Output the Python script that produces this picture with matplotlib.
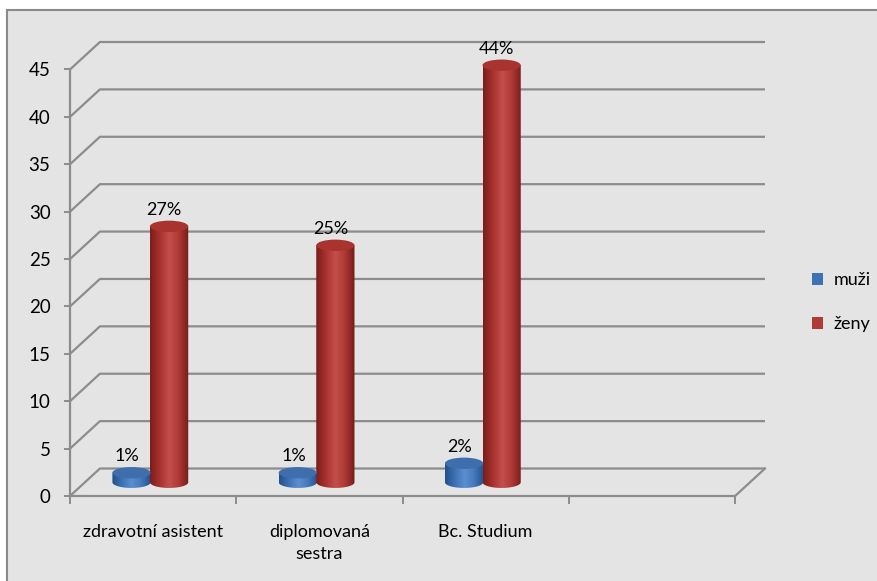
import matplotlib
matplotlib.use('Agg')
import matplotlib.pyplot as plt
import numpy as np
from matplotlib.patches import Polygon, Ellipse, Rectangle, Patch
from matplotlib.colors import LinearSegmentedColormap

plt.rcParams['font.family'] = ['Lato', 'DejaVu Sans']

# Data
kategorie = ['zdravotní asistent', 'diplomovaná\nsestra', 'Bc. Studium', '']
serie = ['muži', 'ženy']
muzi = [1, 1, 2, np.nan]
zeny = [27, 25, 44, np.nan]
popisky_muzi = ['1%', '1%', '2%', '']
popisky_zeny = ['27%', '25%', '44%', '']

W, H = 878, 581
fs = 13
fig = plt.figure(figsize=(W / 100, H / 100), dpi=100, facecolor='white')

# okraj grafu
fig.patches.append(Rectangle((7 / W, -0.1), 1.2, 1 - 10 / H + 0.1, transform=fig.transFigure,
                             facecolor='#E4E4E4', edgecolor='#8A8A8A', lw=1.5, zorder=-10))

ax = fig.add_axes([70 / W, 1 - 496 / H, (765 - 70) / W, (496 - 42) / H])
ax.patch.set_visible(False)

# hloubka 3D efektu v datovych jednotkach
dx, dy = 0.18, 2.9
ax.set_xlim(-0.5, 3.5 + dx)
ax.set_ylim(0, 45 + dy)

grid_c = '#8C8C8C'
for v in range(0, 50, 5):
    ax.plot([-0.5, -0.5 + dx, 3.5 + dx], [v, v + dy, v + dy], color=grid_c, lw=1.6, zorder=1,
            clip_on=False, solid_capstyle='butt')
ax.plot([3.5 + dx, 3.5], [dy, 0], color=grid_c, lw=1.6, zorder=1, clip_on=False)

for s in ['top', 'right']:
    ax.spines[s].set_visible(False)
ax.spines['left'].set_bounds(0, 45)
ax.spines['bottom'].set_bounds(-0.5, 3.5)
for s in ['left', 'bottom']:
    ax.spines[s].set_color(grid_c)
    ax.spines[s].set_linewidth(1.6)

ax.set_yticks(range(0, 50, 5))
ax.tick_params(axis='y', length=4, width=1.4, color=grid_c, pad=10, labelsize=fs + 0.5)
ax.set_xticks([-0.5, 0.5, 1.5, 2.5, 3.5])
ax.set_xticklabels([])
ax.tick_params(axis='x', length=6, width=1.4, color=grid_c)
ax.set_xticks(range(len(kategorie)), minor=True)
ax.set_xticklabels(kategorie, minor=True, fontsize=fs, linespacing=1.5)
ax.tick_params(axis='x', which='minor', length=0, pad=20)
for lab in ax.get_xticklabels(minor=True):
    lab.set_verticalalignment('top')

cm_blue = LinearSegmentedColormap.from_list('b', ['#23508A', '#3F72B4', '#5B8FD2', '#4579BC', '#24508A'])
cm_red = LinearSegmentedColormap.from_list('r', ['#7A1E1C', '#A8312E', '#C2504C', '#AE3834', '#751C1A'])

w = 0.23
eh = 0.6
base = dy / 2
grad = np.linspace(0, 1, 64).reshape(1, -1)


def valec(cx, val, cmap, top_c):
    t1 = np.linspace(np.pi, 2 * np.pi, 40)
    xs = list(cx + w / 2 * np.cos(t1))
    ys = list(base + eh * np.sin(t1))
    xs += [cx + w / 2, cx - w / 2]
    ys += [base + val, base + val]
    poly = Polygon(np.column_stack([xs, ys]), closed=True, facecolor='none', edgecolor='none')
    ax.add_patch(poly)
    im = ax.imshow(grad, cmap=cmap, aspect='auto', interpolation='bicubic',
                   extent=(cx - w / 2, cx + w / 2, base - eh, base + val), zorder=3)
    im.set_clip_path(poly)
    ax.add_patch(Ellipse((cx, base + val), w, 2 * eh, facecolor=top_c, edgecolor='none', zorder=4))


for i in range(len(kategorie)):
    if not np.isnan(muzi[i]):
        valec(i - 0.13, muzi[i], cm_blue, '#3F6EAC')
        ax.text(i - 0.155, base + muzi[i] + eh + 0.3, popisky_muzi[i], ha='center', va='bottom',
                fontsize=fs, zorder=6)
    if not np.isnan(zeny[i]):
        valec(i + 0.096, zeny[i], cm_red, '#A8332F')
        ax.text(i + 0.066, base + zeny[i] + eh + 0.3, popisky_zeny[i], ha='center', va='bottom',
                fontsize=fs, zorder=6)

ax.set_aspect('auto')
ax.set_xlim(-0.5, 3.5 + dx)
ax.set_ylim(0, 45 + dy)

handles = [Patch(facecolor='#3F72B4'), Patch(facecolor='#B03A36')]
fig.legend(handles, serie, loc='upper left', bbox_to_anchor=(796 / W, 1 - 256 / H), frameon=False,
           handlelength=0.62, handleheight=0.62, handletextpad=0.55, labelspacing=1.55, fontsize=fs)

fig.savefig('out.png', dpi=100, facecolor='white')
